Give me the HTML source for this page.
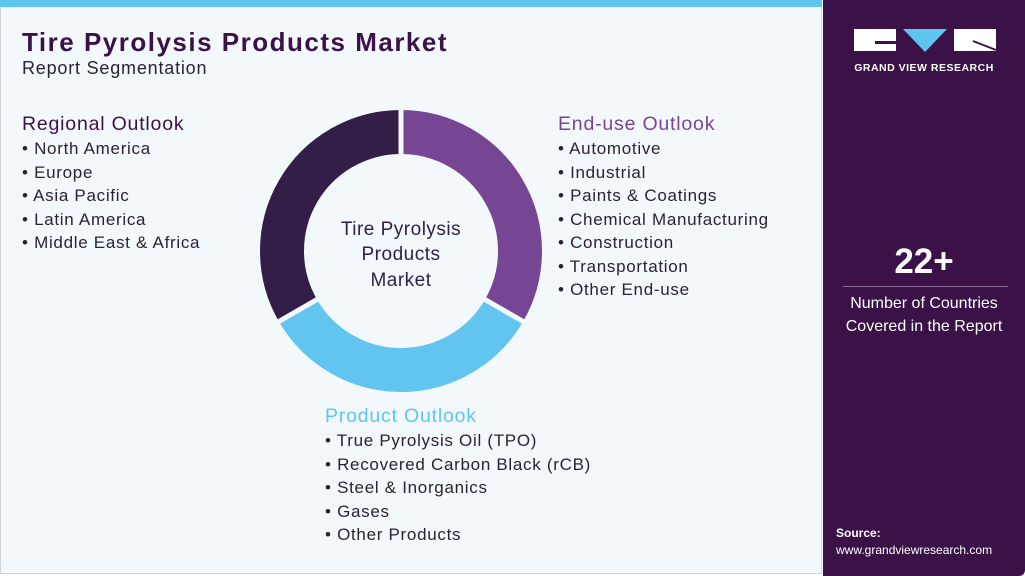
<!DOCTYPE html>
<html><head><meta charset="utf-8"><style>
body{margin:0;width:1025px;height:576px;overflow:hidden;background:#fff;font-family:"Liberation Sans",sans-serif;}
.main{position:absolute;left:0;top:0;width:822px;height:574px;background:#f3f8fc;border:1px solid #cfd4d8;border-top:none;box-sizing:border-box;}
.strip{position:absolute;left:0;top:0;width:822px;height:7px;background:#5ec5ef;}
.side{position:absolute;left:823px;top:0;width:202px;height:576px;background:#3a1248;border-radius:0 0 6px 0;}
.t{position:absolute;white-space:nowrap;}
ul{list-style:none;margin:0;padding:0}
li{font-size:17px;line-height:23.5px;color:#2b2233;letter-spacing:0.7px}
li:before{content:"• ";}
h3{margin:0;font-size:19.5px;font-weight:normal;line-height:26px;letter-spacing:0.8px}
</style></head><body>
<div class="main"></div><div class="strip"></div>
<div class="t" style="left:22px;top:27px;font-size:26px;font-weight:bold;color:#3a1248;letter-spacing:1.5px">Tire Pyrolysis Products Market</div>
<div class="t" style="left:22px;top:58px;font-size:18px;color:#2b2233;letter-spacing:0.8px">Report Segmentation</div>
<div class="t" style="left:22px;top:111px"><h3 style="color:#3a1248">Regional Outlook</h3><ul><li>North America</li><li>Europe</li><li>Asia Pacific</li><li>Latin America</li><li>Middle East &amp; Africa</li></ul></div>
<div class="t" style="left:558px;top:111px"><h3 style="color:#7a4496">End-use Outlook</h3><ul><li>Automotive</li><li>Industrial</li><li>Paints &amp; Coatings</li><li>Chemical Manufacturing</li><li>Construction</li><li>Transportation</li><li>Other End-use</li></ul></div>
<div class="t" style="left:325px;top:403px"><h3 style="color:#5ec5ef">Product Outlook</h3><ul><li>True Pyrolysis Oil (TPO)</li><li>Recovered Carbon Black (rCB)</li><li>Steel &amp; Inorganics</li><li>Gases</li><li>Other Products</li></ul></div>
<svg style="position:absolute;left:0;top:0" width="822" height="576">
<path d="M401,132 A119,119 0 0 1 504.06,310.5" fill="none" stroke="#764593" stroke-width="44"/>
<path d="M504.06,310.5 A119,119 0 0 1 297.94,310.5" fill="none" stroke="#62c5ef" stroke-width="44"/>
<path d="M297.94,310.5 A119,119 0 0 1 401,132" fill="none" stroke="#321e47" stroke-width="44"/>
<g stroke="#f3f8fc" stroke-width="5">
<line x1="401" y1="251" x2="401" y2="105"/>
<line x1="401" y1="251" x2="527.5" y2="324"/>
<line x1="401" y1="251" x2="274.5" y2="324"/>
</g>
<circle cx="401" cy="251" r="96" fill="#f3f8fc"/>
<g font-size="19" fill="#2f1f46" font-family="Liberation Sans" text-anchor="middle" letter-spacing="0.5">
<text x="401" y="235">Tire Pyrolysis</text>
<text x="401" y="260">Products</text>
<text x="401" y="286">Market</text>
</g>
</svg>
<div class="side"></div>
<svg style="position:absolute;left:823px;top:0" width="202" height="80">
<rect x="31" y="29" width="42" height="22" fill="#fff"/>
<rect x="52" y="41" width="22" height="3" fill="#3a1248"/>
<polygon points="80,29 124,29 102,52" fill="#5ec5ef"/>
<rect x="131" y="29" width="42" height="22" fill="#fff"/>
<line x1="150" y1="41" x2="173" y2="50" stroke="#3a1248" stroke-width="2"/>
<text x="101" y="71" text-anchor="middle" font-size="10.5" font-weight="bold" fill="#fff" font-family="Liberation Sans" letter-spacing="0.5">GRAND VIEW RESEARCH</text>
</svg>
<div class="t" style="left:823px;width:202px;text-align:center;top:242px;font-size:35px;font-weight:bold;color:#fff">22+</div>
<div style="position:absolute;left:843px;top:286px;width:165px;height:1px;background:#8a6d98"></div>
<div class="t" style="left:823px;width:202px;text-align:center;top:292px;font-size:16px;line-height:23px;color:#fff">Number of Countries<br>Covered in the Report</div>
<div class="t" style="left:836px;top:526px;font-size:12px;font-weight:bold;color:#fff">Source:</div>
<div class="t" style="left:836px;top:543px;font-size:12px;color:#fff">www.grandviewresearch.com</div>
</body></html>
